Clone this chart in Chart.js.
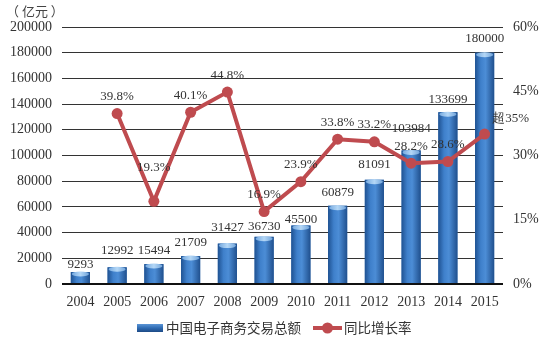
<!DOCTYPE html>
<html lang="zh">
<head>
    <meta charset="UTF-8">
    <title>中国电子商务交易总额</title>
    <script src="https://cdn.jsdelivr.net/npm/chart.js"></script>
    <style>
        body { margin: 0; padding: 0; background: #fff; }
        #wrap { width: 550px; height: 340px; position: relative; }
    </style>
</head>
<body>
    <div id="wrap"><canvas id="ecChart"></canvas></div>

    <script>
        // data
        const years = ['2004', '2005', '2006', '2007', '2008', '2009', '2010', '2011', '2012', '2013', '2014', '2015'];
        const volume = [9293, 12992, 15494, 21709, 31427, 36730, 45500, 60879, 81091, 103984, 133699, 180000];
        const growth = [null, 39.8, 19.3, 40.1, 44.8, 16.9, 23.9, 33.8, 33.2, 28.2, 28.6, 35];
        const growthLabels = ['', '39.8%', '19.3%', '40.1%', '44.8%', '16.9%', '23.9%', '33.8%', '33.2%', '28.2%', '28.6%', '超35%'];
        const volumeTicks = [0, 20000, 40000, 60000, 80000, 100000, 120000, 140000, 160000, 180000, 200000];
        const growthTicks = [0, 15, 30, 45, 60];

        const serif = '"Liberation Serif", "DejaVu Serif", serif';
        const cjk = '"Noto Sans CJK SC", sans-serif';
        const textColor = '#333';
        const barColor = '#2f6cb3';
        const lineColor = '#bf4b4f';

        // how far above the bar top each value label sits (reference is hand placed)
        const barNudge = [7, 17, 14, 14, 16, 10, 6, 13, 15, 22, 13, 14];

        // shade bars like the 3D cylinders in the original
        const barShade = {
            id: 'barShade',
            afterDatasetDraw(chart, args) {
                if (args.index !== 0) return;
                const ctx = chart.ctx;
                args.meta.data.forEach(el => {
                    const { x, y, base, width } = el.getProps(['x', 'y', 'base', 'width'], true);
                    const l = x - width / 2, r = x + width / 2;
                    const g = ctx.createLinearGradient(l, 0, r, 0);
                    g.addColorStop(0, '#1f5292');
                    g.addColorStop(0.3, '#3f80cb');
                    g.addColorStop(0.55, '#4c8dd6');
                    g.addColorStop(1, '#20508e');
                    ctx.save();
                    ctx.fillStyle = g;
                    ctx.fillRect(l, y, width, base - y);
                    const cg = ctx.createLinearGradient(l, 0, r, 0);
                    cg.addColorStop(0, '#6ea4dd');
                    cg.addColorStop(0.5, '#b4d7f6');
                    cg.addColorStop(1, '#6a9fd8');
                    ctx.fillStyle = cg;
                    ctx.beginPath();
                    ctx.ellipse(x, y + 2, width / 2 - 1, 2.5, 0, 0, Math.PI * 2);
                    ctx.fill();
                    ctx.restore();
                });
            }
        };

        // value labels, unit note and legend
        const labelsAndLegend = {
            id: 'labelsAndLegend',
            afterDraw(chart) {
                const ctx = chart.ctx;
                ctx.save();
                ctx.fillStyle = textColor;
                ctx.textAlign = 'center';
                ctx.textBaseline = 'middle';
                ctx.font = '13px ' + serif;

                chart.getDatasetMeta(0).data.forEach((el, i) => {
                    ctx.fillText(String(volume[i]), el.x, el.y - barNudge[i]);
                });

                chart.getDatasetMeta(1).data.forEach((el, i) => {
                    if (growth[i] == null) return;
                    let dx = 0, dy = -17;
                    if (i === 2) dy = -34;
                    if (i === growth.length - 1) { dx = 26; dy = -16; }
                    ctx.fillText(growthLabels[i], el.x + dx, el.y + dy);
                });

                // unit
                ctx.textAlign = 'left';
                ctx.font = '13px ' + cjk;
                ctx.fillStyle = '#444';
                ctx.fillText('（ 亿元 ）', 6, 11);

                // legend
                const ly = 328;
                const bg = ctx.createLinearGradient(0, ly - 4, 0, ly + 4);
                bg.addColorStop(0, '#5b95d6');
                bg.addColorStop(0.5, '#2f6cb3');
                bg.addColorStop(1, '#1d4a85');
                ctx.fillStyle = bg;
                ctx.fillRect(137, ly - 4, 26, 8);
                ctx.fillStyle = textColor;
                ctx.font = '13.5px ' + cjk;
                ctx.fillText(chart.data.datasets[0].label, 166, ly);

                ctx.strokeStyle = lineColor;
                ctx.lineWidth = 4;
                ctx.beginPath();
                ctx.moveTo(313, ly);
                ctx.lineTo(342, ly);
                ctx.stroke();
                ctx.fillStyle = lineColor;
                ctx.beginPath();
                ctx.arc(327.5, ly, 5.5, 0, Math.PI * 2);
                ctx.fill();
                ctx.fillStyle = textColor;
                ctx.fillText(chart.data.datasets[1].label, 344, ly);
                ctx.restore();
            }
        };

        new Chart(document.getElementById('ecChart'), {
            data: {
                labels: years,
                datasets: [{
                    type: 'bar',
                    label: '中国电子商务交易总额',
                    data: volume,
                    backgroundColor: barColor,
                    categoryPercentage: 0.8,
                    barPercentage: 0.65,
                    yAxisID: 'y',
                    order: 2
                }, {
                    type: 'line',
                    label: '同比增长率',
                    data: growth,
                    borderColor: lineColor,
                    backgroundColor: lineColor,
                    borderWidth: 4,
                    pointRadius: 5.5,
                    pointHoverRadius: 5.5,
                    pointBackgroundColor: lineColor,
                    pointBorderWidth: 0,
                    tension: 0,
                    yAxisID: 'y1',
                    order: 1
                }]
            },
            options: {
                responsive: true,
                maintainAspectRatio: false,
                animation: false,
                layout: { padding: { top: 27, left: 0, right: 0, bottom: 0 } },
                plugins: {
                    legend: { display: false },
                    tooltip: { enabled: false }
                },
                scales: {
                    x: {
                        offset: true,
                        grid: { display: false },
                        border: { display: false },
                        ticks: { color: textColor, font: { family: serif, size: 14 }, padding: 2, maxRotation: 0 },
                        afterFit: s => { s.height = 56; }
                    },
                    y: {
                        position: 'left',
                        min: 0,
                        max: 200000,
                        afterBuildTicks: s => { s.ticks = volumeTicks.map(v => ({ value: v })); },
                        grid: {
                            color: c => c.tick && c.tick.value === 0 ? '#111' : '#333',
                            lineWidth: c => c.tick && c.tick.value === 0 ? 2 : 1,
                            drawTicks: false
                        },
                        border: { display: false },
                        ticks: { color: textColor, font: { family: serif, size: 14 }, padding: 10, callback: v => String(v) },
                        afterFit: s => { s.width = 62; }
                    },
                    y1: {
                        position: 'right',
                        min: 0,
                        max: 60,
                        afterBuildTicks: s => { s.ticks = growthTicks.map(v => ({ value: v })); },
                        grid: { display: false, drawTicks: false },
                        border: { display: false },
                        ticks: { color: textColor, font: { family: serif, size: 14 }, padding: 10, callback: v => v + '%' },
                        afterFit: s => { s.width = 47; }
                    }
                }
            },
            plugins: [barShade, labelsAndLegend]
        });
    </script>
</body>
</html>
